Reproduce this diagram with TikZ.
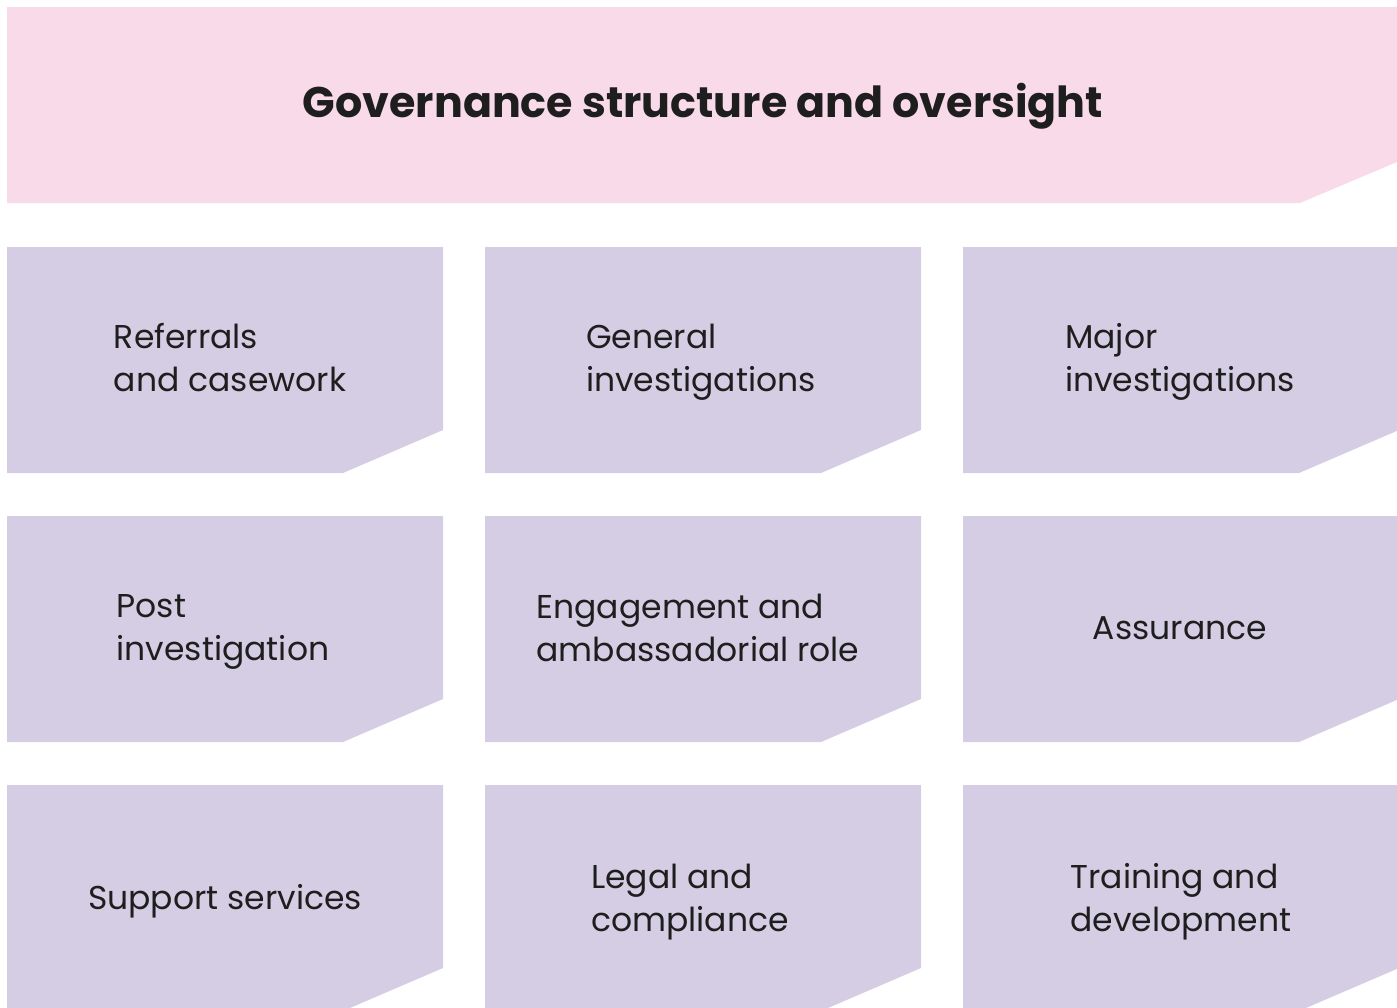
\documentclass[tikz,border=0pt]{standalone}
\usepackage{fontspec}
\setmainfont{Poppins}

\definecolor{bannerpink}{HTML}{F9DAE9}
\definecolor{tilelilac}{HTML}{D5CDE3}
\definecolor{inkdark}{HTML}{1E1E1E}

\tikzset{
  tiletext/.style={align=left, text=inkdark, font=\fontsize{33}{43}\selectfont,
    execute at begin node=\strut, execute at end node=\strut},
}

\begin{document}
\begin{tikzpicture}[x=1pt,y=-1pt]
\useasboundingbox (0,0) rectangle (1397,1007);
% header band with clipped corner
\fill[bannerpink] (7,7) -- (1397,7) -- (1397,162) -- (1300,203) -- (7,203) -- cycle;
\node[anchor=base, text=inkdark, font=\bfseries\fontsize{42.8}{48}\selectfont] (title) at (703,117) {Governance structure and oversight};
% 3x3 tiles
\foreach \x in {7,485,963}
  \foreach \y in {247,516,785}
    \fill[tilelilac] (\x,\y) -- ++(436,0) -- ++(0,183) -- ++(-100,43) -- (\x,\y+226) -- cycle;
\node[tiletext] (referrals) at (230,364) {Referrals\\and casework};
\node[tiletext] (general) at (701,364) {General\\investigations};
\node[tiletext] (major) at (1180,364) {Major\\investigations};
\node[tiletext] (post) at (223,634) {Post\\investigation};
\node[tiletext] (engagement) at (698,634) {Engagement and\\ambassadorial role};
\node[tiletext] (assurance) at (1180,631) {Assurance};
\node[tiletext] (support) at (225,901) {Support services};
\node[tiletext] (legal) at (690,904) {Legal and\\compliance};
\node[tiletext] (training) at (1181,904) {Training and\\development};
\end{tikzpicture}
\end{document}
